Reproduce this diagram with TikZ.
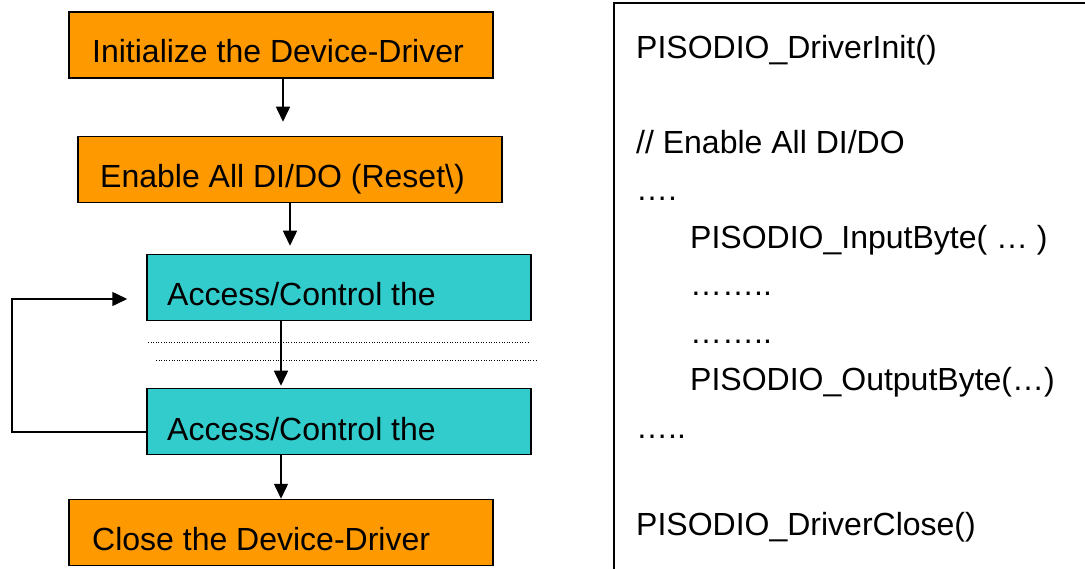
\documentclass[tikz,border=0pt]{standalone}
\usepackage{fontspec}
\setmainfont{Liberation Sans}
\usetikzlibrary{arrows.meta,calc}
\definecolor{boxorange}{HTML}{FF9900}
\definecolor{boxteal}{HTML}{33CCCC}
\begin{document}
\begin{tikzpicture}[x=1pt,y=-1pt,
  stepbox/.style={draw=black,line width=1.5pt,inner sep=0pt,minimum height=66pt},
  obox/.style={stepbox,fill=boxorange,minimum width=424pt},
  tbox/.style={stepbox,fill=boxteal,minimum width=384pt},
  lbl/.style={anchor=base west,inner sep=0pt,font=\fontsize{32}{38}\selectfont},
  arr/.style={line width=1.5pt,-{Triangle[length=15pt,width=14pt]}},
  dots/.style={line width=0.8pt,dash pattern=on 1pt off 1.6pt}
]
\useasboundingbox (0,0) rectangle (1085,569);
\fill[white] (0,0) rectangle (1085,569);

% left flow boxes
\node[obox] (b1) at (281,45) {};
\node[obox] (b2) at (290,169.5) {};
\node[tbox] (b3) at (339,287.5) {};
\node[tbox] (b4) at (339,421.5) {};
\node[obox] (b5) at (281,532.5) {};

\node[lbl] (t1) at (92,63) {Initialize the Device-Driver};
\node[lbl] (t2) at (100,188) {Enable All DI/DO (Reset\textbackslash)};
\node[lbl] (t3) at (167,306) {Access/Control the};
\node[lbl] (t4) at (167,440) {Access/Control the};
\node[lbl] (t5) at (92,550) {Close the Device-Driver};

% connectors
\draw[arr,shorten >=14pt] ([xshift=2pt]b1.south) -- ([xshift=2pt]b1.south |- b2.north);
\draw[arr,shorten >=8pt] (b2.south) -- (b2.south |- b3.north);
\draw[arr,shorten >=2pt] (b3.south -| b1.south) -- (b4.north -| b1.south);
\draw[arr] (b4.south -| b5.north) -- (b5.north);
\coordinate (loopL) at (12,0);
\draw[arr,shorten >=19pt] ([yshift=-10.5pt]b4.west) -- ([yshift=-10.5pt]b4.west -| loopL) |- ([yshift=-11.5pt]b3.west);

% dotted separators
\draw[dots] (148,342) -- (530,342);
\draw[dots] (156,360) -- (538,360);

% right code panel
\draw[line width=1.5pt] (614,580) -- (614,3) -- (1095,3);
\node[lbl] (c1) at (636,59) {PISODIO\_DriverInit()};
\node[lbl] (c2) at (636,153.5) {// Enable All DI/DO};
\node[lbl] (c3) at (636,201) {….};
\node[lbl] (c4) at (690,248.5) {PISODIO\_InputByte( … )};
\node[lbl] (c5) at (690,296) {……..};
\node[lbl] (c6) at (690,343.5) {……..};
\node[lbl] (c7) at (690,391) {PISODIO\_OutputByte(…)};
\node[lbl] (c8) at (636,438.5) {…..};
\node[lbl] (c9) at (636,535) {PISODIO\_DriverClose()};
\end{tikzpicture}
\end{document}
